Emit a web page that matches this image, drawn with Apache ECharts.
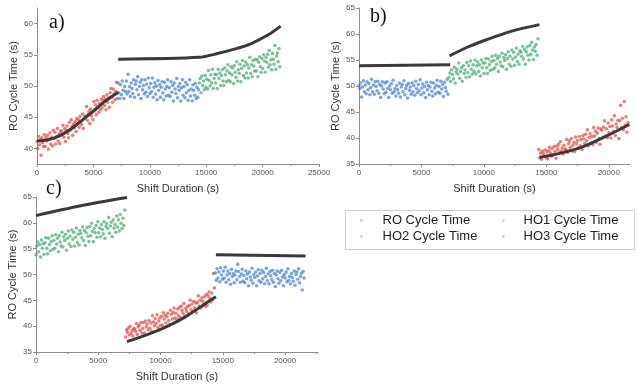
<!DOCTYPE html>
<html>
<head>
<meta charset="utf-8">
<script src="https://cdn.jsdelivr.net/npm/echarts@6/dist/echarts.min.js"></script>
<style>
  html, body { margin: 0; padding: 0; background: #fff; }
  #chart { width: 638px; height: 385px; }
</style>
</head>
<body>
<div id="chart"></div>
<script>
// sample spacing of the logged cycle times (s)
const STEP = 72;

// panel a) – scatter segments (y values, one every STEP seconds)
const A_RED = [41.1,40.0,41.9,40.6,41.4,38.9,41.7,40.9,40.3,42.2,
  40.3,41.7,41.2,42.1,39.9,41.5,42.5,40.7,41.8,40.4,
  42.9,41.6,42.6,40.7,41.9,43.2,41.2,42.3,40.8,42.8,
  42.8,42.2,43.7,41.8,43.2,41.1,42.9,43.6,42.4,41.7,
  44.2,42.9,44.6,43.5,42.1,43.9,43.3,44.3,42.7,44.8,
  44.0,44.6,43.4,45.1,44.4,43.8,45.5,43.2,44.8,45.2,
  45.1,46.7,44.5,45.5,46.0,44.0,46.3,45.2,45.7,44.6,
  47.5,46.0,47.0,45.4,47.7,46.5,45.8,47.2,46.2,47.9,
  46.5,47.7,48.3,46.9,47.9,46.2,48.6,47.4,48.1,46.6,
  48.9,49.6,48.2,47.4,49.5,48.7,47.8,49.1,50.6,48.0];
const A_BLUE = [50.5,48.9,48.0,50.2,48.6,50.8,49.3,48.0,49.9,49.1,
  50.8,48.7,51.9,49.1,49.9,48.3,50.5,49.6,48.8,51.0,
  48.2,50.3,50.8,49.4,51.5,48.6,49.9,50.6,48.0,51.0,
  49.4,50.1,48.7,51.0,49.0,50.3,48.3,51.3,49.7,48.8,
  50.4,49.1,51.3,48.2,49.8,50.5,48.7,50.0,47.8,50.9,
  49.3,50.2,48.2,49.8,50.7,48.9,47.8,50.6,49.5,48.4,
  49.9,51.0,48.5,49.7,48.3,50.7,49.0,50.1,47.6,50.5,
  49.5,48.8,51.2,48.1,49.9,49.3,50.4,47.6,49.7,51.0,
  48.5,49.9,48.1,50.6,48.9,50.2,47.7,49.3,51.0,48.4,
  49.5,47.6,50.2,49.3,48.5,50.4,48.0,49.8,48.2,49.4];
const A_GREEN = [50.5,51.2,48.9,51.6,50.1,50.8,49.4,51.7,49.8,51.1,
  49.5,52.5,50.9,50.0,51.8,50.5,52.7,49.6,51.2,51.9,
  50.5,51.8,49.6,52.7,51.2,52.1,50.1,51.7,52.6,50.8,
  50.1,52.9,51.8,50.7,52.4,53.4,50.9,52.1,50.7,53.1,
  51.8,52.9,50.4,53.3,52.2,51.4,53.9,50.8,52.6,52.0,
  53.5,50.7,52.8,54.1,51.7,53.2,51.3,53.8,52.1,53.4,
  51.3,52.9,54.6,52.0,53.4,51.5,54.1,53.2,52.4,54.3,
  52.4,54.2,51.5,53.8,54.7,53.1,52.2,54.4,52.8,55.0,
  54.0,52.2,54.6,53.8,55.1,53.0,55.7,53.4,54.2,52.6,
  55.2,54.3,53.5,56.5,52.7,54.8,55.3,53.9,56.0,53.1];

// panel b)
const B_BLUE = [50.1,49.5,50.6,47.9,49.8,51.0,48.9,50.2,48.5,50.8,
  49.3,50.5,48.3,49.7,51.3,48.9,50.2,48.4,50.8,49.9,
  49.1,50.9,48.6,50.3,47.8,50.0,50.8,49.4,48.5,50.6,
  48.8,50.8,49.5,47.8,50.0,49.3,50.5,48.6,51.1,48.9,
  49.5,48.1,50.1,49.3,48.6,50.6,47.9,49.8,50.3,48.9,
  51.0,48.3,49.5,50.1,47.7,50.5,49.2,49.8,48.4,50.6,
  48.9,50.1,48.2,50.9,49.5,48.7,50.3,49.1,51.2,48.3,
  49.6,50.4,48.7,49.9,47.8,50.7,49.3,50.1,48.3,49.8,
  50.7,49.0,48.1,50.6,49.6,48.5,50.1,51.1,48.8,49.9,
  48.6,50.9,49.4,50.3,48.0,50.7,49.7,49.0,51.3,48.4];
const B_GREEN = [51.7,52.5,50.9,53.1,52.2,51.4,53.6,50.6,52.7,53.2,
  52.3,54.4,51.5,52.8,53.5,50.9,53.9,52.4,53.1,51.7,
  54.5,52.6,53.9,51.8,54.8,53.2,52.3,54.1,52.8,55.0,
  52.3,53.9,54.6,52.8,54.1,51.9,55.0,53.5,54.4,52.4,
  54.4,55.3,53.5,52.4,55.2,54.1,53.0,54.7,55.7,53.2,
  54.9,53.5,55.9,54.2,55.3,52.8,55.7,54.6,53.9,56.3,
  53.7,55.5,54.9,56.0,53.2,55.3,56.6,54.2,55.7,53.8,
  56.9,55.2,56.5,54.0,55.6,57.3,54.7,56.1,54.2,56.8,
  56.5,55.7,57.6,55.2,57.0,54.2,56.6,57.5,55.9,55.0,
  57.8,56.1,58.4,56.9,55.1,57.5,56.7,58.0,55.9,59.1];
const B_RED = [37.8,36.2,37.1,35.9,37.5,37.0,36.5,37.7,36.2,37.3,
  36.0,37.6,38.2,37.1,36.5,38.0,36.8,38.4,37.4,36.1,
  38.4,37.8,38.8,37.2,39.3,37.5,38.1,36.9,38.6,37.9,
  37.8,39.7,37.2,38.9,39.4,38.2,39.9,37.5,38.6,39.2,
  37.4,40.2,38.9,39.5,38.1,40.3,38.5,39.7,37.8,40.5,
  39.8,38.9,40.7,39.4,41.6,38.5,40.1,40.8,39.0,40.3,
  38.7,42.0,40.4,41.3,39.2,40.9,41.9,39.9,38.8,41.8,
  41.5,40.1,42.1,43.3,40.4,41.8,40.1,42.9,41.0,42.2,
  40.0,43.5,42.3,41.3,44.3,40.5,42.7,42.0,43.4,39.9,
  43.3,46.3,42.0,43.8,41.6,47.0,42.5,44.1,41.1,43.0];

// panel c)
const C_GREEN = [53.8,55.5,56.3,54.4,55.8,53.4,56.7,55.1,56.0,53.9,
  56.1,57.1,55.1,54.0,57.0,55.8,54.6,56.4,57.5,54.9,
  56.6,55.1,57.7,55.9,57.0,54.4,57.5,56.3,55.5,58.2,
  55.3,57.3,56.6,57.8,54.7,57.0,58.4,55.9,57.4,55.4,
  58.6,56.8,58.2,55.5,57.2,59.0,56.2,57.8,55.7,58.5,
  58.0,57.1,59.2,56.6,58.5,55.6,58.1,59.1,57.4,56.4,
  59.3,57.5,59.9,58.3,56.4,58.9,58.1,59.5,57.2,60.2,
  58.1,59.0,57.3,59.7,58.7,57.9,60.2,57.0,59.3,59.8,
  58.9,61.1,58.0,59.4,60.1,57.3,60.6,59.0,59.7,58.2,
  61.3,59.2,60.6,58.4,61.6,59.9,58.9,60.9,59.5,62.5];
const C_RED = [37.9,39.3,38.8,39.6,38.3,40.0,38.6,39.1,38.1,39.5,
  39.5,39.0,40.5,38.4,39.9,40.2,39.2,40.7,38.7,39.6,
  40.7,38.7,41.0,39.9,40.4,39.3,41.1,39.6,40.6,39.0,
  42.0,40.8,40.1,41.5,40.5,42.2,39.8,41.0,41.6,40.2,
  41.9,40.2,42.6,41.4,42.1,40.6,41.8,42.5,41.1,40.3,
  43.1,42.3,41.4,42.7,43.5,41.6,42.5,41.4,43.3,42.0,
  43.6,41.7,43.9,43.1,42.5,44.4,42.0,43.4,42.9,43.8,
  42.4,44.0,45.0,43.2,44.3,42.9,44.8,43.5,44.5,42.6,
  44.6,45.9,43.9,45.0,43.5,45.5,44.8,44.2,45.7,43.8,
  46.2,44.1,45.9,46.6,45.4,44.7,46.4,45.1,50.2,47.4];
const C_BLUE = [50.3,48.9,51.1,49.3,50.5,48.6,51.3,49.9,49.1,50.7,
  49.3,51.4,48.5,49.9,50.7,49.0,50.2,48.1,51.0,49.6,
  50.2,48.4,49.9,50.7,49.0,52.0,50.6,49.6,48.5,50.1,
  51.0,48.7,49.8,48.4,50.7,49.2,50.1,47.8,50.5,49.5,
  48.9,51.2,48.3,50.0,49.4,50.5,47.8,49.7,50.9,48.8,
  50.2,48.5,50.8,49.2,50.4,48.2,49.6,51.2,48.8,50.1,
  48.2,50.6,49.7,49.0,50.8,48.5,50.2,47.7,49.9,50.7,
  49.2,48.3,50.4,48.8,50.8,49.5,47.8,50.0,49.3,50.5,
  48.6,51.1,48.9,49.6,48.2,50.2,49.4,48.7,50.7,47.9,
  50.0,50.5,49.1,51.1,48.4,49.6,50.2,47.0,50.6,49.3];

// fitted model curves [x, y]
const FIT_A_RED = [[0,41.2],[1000,41.4],[2000,42.0],[3000,43.1],[4000,44.5],[5000,46.0],[6000,47.5],[7200,49.0]];
const FIT_A_TOP = [[7200,54.3],[14400,54.6],[16000,55.2],[17500,55.9],[19000,56.8],[20500,58.2],[21600,59.6]];
const FIT_B_FLAT = [[0,53.9],[7300,54.1]];
const FIT_B_GREEN = [[7250,55.8],[8700,57.5],[10200,58.9],[12300,60.6],[14450,61.8]];
const FIT_B_RED = [[14450,36.3],[16000,37.0],[18000,38.4],[20000,40.6],[21650,42.6]];
const FIT_C_GREEN = [[0,61.4],[3600,63.3],[7300,64.9]];
const FIT_C_RED = [[7300,37.0],[9000,38.4],[10500,39.9],[12000,41.8],[13500,44.2],[14450,45.7]];
const FIT_C_BLUE = [[14450,53.8],[21650,53.6]];

// tick labels
const X_TICKS_A = [0, 5000, 10000, 15000, 20000, 25000];
const X_TICKS_BC = [0, 5000, 10000, 15000, 20000];
const Y_TICKS_A = [40, 45, 50, 55, 60];
const Y_TICKS_BC = [35, 40, 45, 50, 55, 60, 65];

const NAMES = { blue: 'RO Cycle Time', red: 'HO1 Cycle Time', green: 'HO2 Cycle Time', extra: 'HO3 Cycle Time' };
const COLORS = { red: '#e5463f', blue: '#3f7ed6', green: '#40ab6b' };
const FONT = 'Liberation Sans, Arial, sans-serif';

const chart = echarts.init(document.getElementById('chart'));

function pts(values, start) {
  return values.map((v, i) => [start + i * STEP, v]);
}

function xAxis(idx, max, ticks) {
  return {
    type: 'value', gridIndex: idx, min: 0, max: max, interval: 5000,
    name: 'Shift Duration (s)', nameLocation: 'middle', nameGap: 19,
    nameTextStyle: { fontFamily: FONT, fontSize: 11, color: '#333' },
    axisLine: { lineStyle: { color: '#8c8c8c', width: 1 } },
    axisTick: { customValues: ticks, length: 3, lineStyle: { color: '#8c8c8c' } },
    minorTick: { show: true, splitNumber: 2, length: 2, lineStyle: { color: '#8c8c8c' } },
    axisLabel: { customValues: ticks, fontFamily: FONT, fontSize: 8, color: '#555', margin: 5, formatter: v => String(v) },
    splitLine: { show: false },
  };
}

function yAxis(idx, min, max, interval, ticks) {
  return {
    type: 'value', gridIndex: idx, min: min, max: max, interval: interval,
    name: 'RO Cycle Time (s)', nameLocation: 'middle', nameGap: 18,
    nameTextStyle: { fontFamily: FONT, fontSize: 11, color: '#333' },
    axisLine: { show: true, lineStyle: { color: '#8c8c8c', width: 1 } },
    axisTick: { show: true, customValues: ticks, length: 3, lineStyle: { color: '#8c8c8c' } },
    axisLabel: { customValues: ticks, fontFamily: FONT, fontSize: 8, color: '#555', margin: 4 },
    splitLine: { show: false },
  };
}

function scatter(name, color, values, start, idx) {
  return {
    type: 'scatter', name: name, xAxisIndex: idx, yAxisIndex: idx,
    symbol: 'circle', symbolSize: 3.5, silent: true,
    itemStyle: { color: color, opacity: 0.7 },
    data: pts(values, start),
  };
}

function fit(data, idx) {
  return {
    type: 'line', xAxisIndex: idx, yAxisIndex: idx, data: data,
    symbol: 'none', smooth: 0.3, silent: true, z: 5,
    lineStyle: { color: '#3a3a3a', width: 3 },
  };
}

const legendText = { fontFamily: FONT, fontSize: 13, color: '#222' };

chart.setOption({
  animation: false,
  backgroundColor: '#fff',
  title: [
    { text: 'a)', left: 44, top: 8 },
    { text: 'b)', left: 365, top: 2 },
    { text: 'c)', left: 41, top: 174 },
  ].map(t => ({ ...t, textStyle: { fontFamily: 'Liberation Serif, Times New Roman, serif', fontSize: 20, fontWeight: 'normal', color: '#111' } })),
  grid: [
    { left: 37, top: 8, width: 282, height: 156 },
    { left: 359, top: 8, width: 271, height: 156 },
    { left: 36, top: 197, width: 282, height: 155 },
  ],
  xAxis: [xAxis(0, 25000, X_TICKS_A), xAxis(1, 21700, X_TICKS_BC), xAxis(2, 22650, X_TICKS_BC)],
  yAxis: [yAxis(0, 37.5, 62.5, 2.5, Y_TICKS_A), yAxis(1, 35, 65, 5, Y_TICKS_BC), yAxis(2, 35, 65, 5, Y_TICKS_BC)],
  legend: [
    { left: 355, top: 209, orient: 'vertical', itemGap: 3, itemWidth: 32, itemHeight: 3, selectedMode: false,
      textStyle: legendText,
      data: [{ name: NAMES.blue, icon: 'circle', itemStyle: { color: '#b5bec8' } },
             { name: NAMES.green, icon: 'circle', itemStyle: { color: '#b9c9bf' } }] },
    { left: 497, top: 209, orient: 'vertical', itemGap: 3, itemWidth: 30, itemHeight: 3, selectedMode: false,
      textStyle: legendText,
      data: [{ name: NAMES.red, icon: 'circle', itemStyle: { color: '#eab9b9' } },
             { name: NAMES.extra, icon: 'circle', itemStyle: { color: '#c4c8cc' } }] },
  ],
  graphic: [{
    type: 'rect', left: 343, top: 208, silent: true,
    shape: { width: 289, height: 39 },
    style: { fill: 'none', stroke: '#cfcfcf', lineWidth: 1 },
  }],
  series: [
    scatter(NAMES.red, COLORS.red, A_RED, 0, 0),
    scatter(NAMES.blue, COLORS.blue, A_BLUE, 7200, 0),
    scatter(NAMES.green, COLORS.green, A_GREEN, 14400, 0),
    fit(FIT_A_RED, 0), fit(FIT_A_TOP, 0),
    scatter(NAMES.blue, COLORS.blue, B_BLUE, 0, 1),
    scatter(NAMES.green, COLORS.green, B_GREEN, 7200, 1),
    scatter(NAMES.red, COLORS.red, B_RED, 14400, 1),
    fit(FIT_B_FLAT, 1), fit(FIT_B_GREEN, 1), fit(FIT_B_RED, 1),
    scatter(NAMES.green, COLORS.green, C_GREEN, 0, 2),
    scatter(NAMES.red, COLORS.red, C_RED, 7200, 2),
    scatter(NAMES.blue, COLORS.blue, C_BLUE, 14400, 2),
    fit(FIT_C_GREEN, 2), fit(FIT_C_RED, 2), fit(FIT_C_BLUE, 2),
    { type: 'scatter', name: NAMES.extra, xAxisIndex: 0, yAxisIndex: 0, data: [] },
  ],
});
</script>
</body>
</html>
